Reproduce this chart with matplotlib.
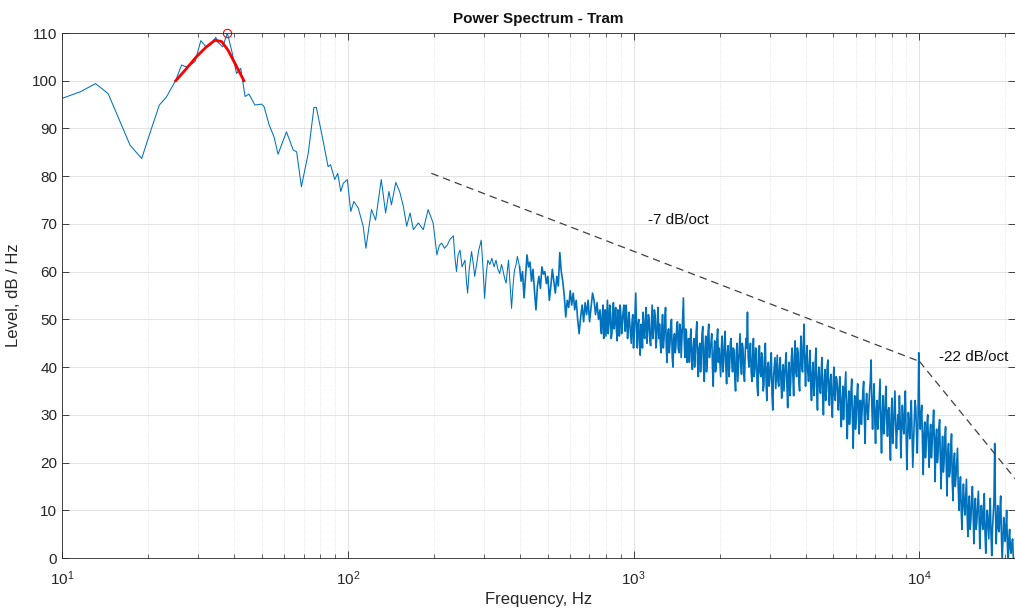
import numpy as np
import matplotlib
matplotlib.use("Agg")
import matplotlib.pyplot as plt
from matplotlib.ticker import NullLocator

plt.rcParams['font.family'] = ['Liberation Sans', 'DejaVu Sans']
plt.rcParams['mathtext.fontset'] = 'custom'
plt.rcParams['mathtext.rm'] = 'Liberation Sans'

# low end of the spectrum, read point by point (Hz, dB)
freq_lo = [10.0, 11.6, 13.1, 14.5, 17.3, 19.0, 20.3, 21.9, 23.2, 25.0, 26.2, 26.9, 27.6, 29.2,
           30.6, 31.9, 33.1, 34.5, 35.2, 36.5, 37.9, 39.3, 40.8, 42.2, 43.7, 45.1, 47.3, 49.9,
           50.9, 53.1, 55.2, 57.0, 61.0, 64.4, 66.2, 68.8, 72.7, 76.1, 77.6, 81.4, 85.3, 87.0,
           90.0, 92.2, 94.5, 96.4, 99.6, 102.4, 105.0, 108.8, 113.2, 115.7, 121.0, 125.1, 130.9,
           135.6, 139.3, 142.1, 147.2, 152.1, 156.4, 160.7, 165.1, 169.6, 176.5, 183.7, 191.0, 198.8]
level_lo = [96.3, 97.7, 99.4, 97.3, 86.5, 83.7, 89.0, 94.9, 96.6, 100.1, 103.3, 103.0, 103.0, 104.0,
            108.4, 107.1, 107.5, 109.1, 108.0, 107.1, 110.0, 106.1, 101.5, 102.6, 96.7, 97.2, 94.9, 95.1,
            94.6, 90.7, 88.2, 84.6, 89.3, 85.5, 85.1, 77.8, 84.8, 94.4, 94.4, 88.3, 82.0, 82.4,
            79.3, 80.6, 76.8, 78.5, 79.3, 72.6, 74.7, 73.3, 69.5, 64.9, 73.0, 70.8, 79.3,
            72.3, 76.8, 74.0, 78.7, 76.6, 73.7, 69.5, 72.3, 68.8, 70.2, 68.8, 73.0, 70.2]

# 200 Hz - 400 Hz
freq_mid = [205, 209, 213, 218, 223, 228, 234, 237, 240, 243, 247, 251, 257, 260, 262.5, 266,
            271, 275, 278, 283, 287, 290, 293, 297, 301, 305, 309, 314, 319, 325, 330, 335,
            340, 345, 349, 354, 358, 362, 365, 370, 374, 379, 383, 388, 392]
level_mid = [63.5, 65.5, 66.0, 64.9, 65.6, 66.8, 67.5, 63.0, 60.0, 63.5, 64.5, 61.0, 62.4, 58.0, 55.5, 60.5,
             64.2, 61.5, 59.0, 62.0, 64.5, 65.5, 66.6, 61.0, 54.4, 59.5, 62.4, 61.5, 62.8, 61.0, 62.4, 60.5,
             59.6, 61.5, 60.3, 58.5, 57.6, 60.5, 62.4, 57.0, 52.3, 57.5, 60.3, 61.5, 63.2]

# dense part, 400 Hz - 21.7 kHz, read in steps of about 1.5 px along the axis
level_hi = [
    61, 58, 60, 54.5, 59, 63.5, 61, 62, 58, 60.5, 56, 52, 57, 59, 56.5, 61, 59.5, 60, 57.5, 59,
    54, 57, 60.5, 58, 55.5, 59, 57, 64, 60, 58, 55, 50.5, 54, 52.5, 56, 53, 55.5, 52, 54, 50,
    47, 50.5, 53, 49.5, 53.5, 51, 54, 49.5, 52.5, 55.5, 54, 51, 53.5, 50,
    52, 47, 53, 50, 46.5, 54, 49, 51.5, 47, 53.5, 50, 48, 52, 46.5, 51, 49.5, 53, 47.5, 50.5, 48.5,
    49, 45, 51, 47, 55.5, 44, 50, 42.5, 48, 51.5, 46, 52.5, 47.5, 50, 44.5, 53, 48, 51, 45.5, 52.5,
    49, 43, 51, 46, 52.5, 41, 48, 45, 50, 40, 47, 44.5, 49.5, 43, 48, 46, 54.5, 42, 47.5, 44,
    41, 48, 39.5, 46, 43, 49.5, 38, 45, 42, 48.5, 37, 46.5, 41, 49, 44, 47, 36, 45.5, 40, 48,
    44, 38, 46.5, 41, 47.5, 36.5, 44.5, 40, 46, 39, 43.5, 35, 45, 40.5, 47, 38.5, 44, 37, 46, 51.5,
    40, 45, 37, 46, 39.5, 43.5, 34, 44.5, 38, 42, 36, 45, 33, 41, 37.5, 43, 31, 40, 35.5, 42.5,
    36, 42, 33.5, 40.5, 38, 43, 31.5, 41, 36.5, 44, 34, 45.5, 38, 43, 35, 46.5, 39, 49, 36, 44.5,
    37, 43.5, 33, 41, 36, 44, 31, 40, 34.5, 42, 30, 39.5, 35, 41.5, 32, 38.5, 29.5, 40, 33, 37.5,
    31, 38, 27.5, 36, 33, 39, 25, 35, 30.5, 37.5, 23, 34, 29, 36.5, 26, 33, 31, 37, 24, 34.5,
    29, 35, 41.5, 27, 36.5, 24, 33, 30, 37.5, 22, 34, 28, 36, 25.5, 31.5, 20.5, 33.5, 27, 35, 23,
    30, 34, 21, 32, 26, 35, 18.5, 30.5, 25, 33, 19, 29, 31.5, 22, 43, 27, 32, 17.5, 28.5, 24,
    30, 19, 28, 24, 31, 16, 27, 22, 29, 14.5, 25.5, 20, 27.5, 13, 24, 18, 26, 12, 22, 17,
    23, 10, 17, 6, 15.5, 9, 16.5, 4.5, 13, 8, 15, 3, 12.5, 7.5, 14, 2, 11, 6, 13.5, 1,
    10, 4, 12.5, 0.5, 9, 24, 3, 11, 5.5, 13, -1, 8.5, 3.5, 10, -2, 6, 1, 4, -3, -4]
freq_hi = np.geomspace(399, 21700, len(level_hi))

# in-between samples for the dense part above 760 Hz (one between each pair)
level_between = [
    48, 51, 46, 52, 50, 47, 53, 46, 51, 48, 52.5, 45.5, 49, 53, 47, 51.5, 49, 53, 46, 51.5,
    47, 49.5, 44, 51, 48, 49, 45, 49, 44, 47, 50, 45, 51, 45.5, 49, 46, 52, 44, 50, 46,
    45, 48, 44, 50, 44, 47, 43, 49, 42, 46, 43, 48.5, 44, 49, 42, 50, 46, 48, 41, 46,
    45, 42, 44, 40, 47, 41, 44, 39, 47, 40, 44, 39, 47, 42, 45, 40, 43, 39, 46, 41,
    41, 44, 39, 45, 40, 43, 38, 45, 41, 44, 38, 43, 37, 44, 41, 45, 39, 43, 44, 42,
    43, 39, 42, 38, 44, 36, 41, 39, 43, 35, 42, 37, 40, 36, 41, 34, 38, 42, 39, 37,
    40, 37, 39, 35, 41, 36, 39, 34, 42, 38, 42, 39, 44, 37, 43, 40, 45, 41, 42, 39,
    40, 36, 39, 34, 41, 35, 38, 36, 39, 34, 37, 33, 40, 35, 37, 33, 36, 34, 38, 35,
    35, 31, 33, 29, 36, 30, 32, 28, 35, 29, 31, 27, 34, 30, 33, 28, 35, 29, 32, 31,
    32, 37, 32, 33, 29, 31, 27, 34, 28, 30, 26, 33, 29, 31, 25, 30, 24, 31, 28, 27,
    27, 29, 27, 28, 31, 27, 25, 28, 30, 26, 24, 33, 26, 29, 31, 30, 24, 26, 21, 28,
    24, 26, 21, 28, 23, 25, 20, 27, 21, 22, 18, 25, 19, 22, 17, 23, 16, 20, 15, 20,
    15, 14, 10, 12, 11, 13, 9, 11, 6, 12, 10, 9, 6, 11, 9, 7, 8, 11, 5, 7,
    7, 9, 5, 6, 12, 10, 8, 6, 10, 5, 4, 7, 6, 3, 4, 2, 3, 0, -3]
start = len(freq_hi) - 1 - len(level_between)
freq_between = np.sqrt(freq_hi[start:-1] * freq_hi[start + 1:])

dense_f = np.concatenate([freq_hi, freq_between])
dense_l = np.concatenate([level_hi, level_between])
order = np.argsort(dense_f)
dense_f, dense_l = dense_f[order], dense_l[order]

freq_a = np.concatenate([freq_lo, freq_mid, freq_hi[:1]])
level_a = np.concatenate([level_lo, level_mid, level_hi[:1]])

# quadratic fit around the main peak and its maximum
fit_f = [25.0, 27.3, 29.5, 32.0, 34.3, 36.2, 38.1, 40.3, 43.3]
fit_l = [100.0, 102.6, 105.0, 107.1, 108.5, 108.2, 106.4, 103.6, 100.0]
peak_f, peak_l = 37.9, 110.0

# slope guides
slope1_f = [196, 10000]
slope1_l = [80.6, 41.2]
slope2_f = [10000, 21700]
slope2_l = [41.2, 16.5]

fig = plt.figure(figsize=(10.15, 6.10), dpi=100)
ax = fig.add_axes([0.0611, 0.0852, 0.9389, 0.8607])

ax.semilogx(freq_a, level_a, color='#0072BD', lw=0.75)
ax.semilogx(dense_f, dense_l, color='#0072BD', lw=1.2)
ax.plot(fit_f, fit_l, color='#ff0000', lw=2.0)
ax.plot([peak_f], [peak_l], 'o', mfc='none', mec='#ff0000', ms=6, mew=0.8, clip_on=False)
ax.plot(slope1_f, slope1_l, color='#404040', lw=0.9, dashes=(6, 4))
ax.plot(slope2_f, slope2_l, color='#404040', lw=0.9, dashes=(6, 4))
ax.text(1120, 70.8, '-7 dB/oct', fontsize=11, va='center', color='#111111')
ax.text(11750, 42.1, '-22 dB/oct', fontsize=11, va='center', color='#111111')

ax.set_xlim(10, 21600)
ax.set_ylim(0, 110)
ax.set_yticks(np.arange(0, 111, 10))
ax.yaxis.set_minor_locator(NullLocator())
ax.grid(True, which='major', color='#dedede', lw=0.6)
ax.grid(True, which='minor', axis='x', color='#dedede', ls=':', lw=0.6)
ax.set_axisbelow(True)
ax.tick_params(which='both', direction='in', top=True, right=True, colors='#262626', labelsize=11)
ax.tick_params(which='major', length=5, width=0.6)
ax.tick_params(which='minor', length=3, width=0.5)
ax.tick_params(axis='x', pad=8)
for s in ax.spines.values():
    s.set_color('#262626')
    s.set_linewidth(0.6)

ax.set_title('Power Spectrum - Tram', fontsize=11, fontweight='bold', color='#111111', pad=7)
ax.set_xlabel('Frequency, Hz', fontsize=12, color='#262626', labelpad=3)
ax.set_ylabel('Level, dB / Hz', fontsize=12, color='#262626', labelpad=8)

fig.savefig('out.png', dpi=100)
